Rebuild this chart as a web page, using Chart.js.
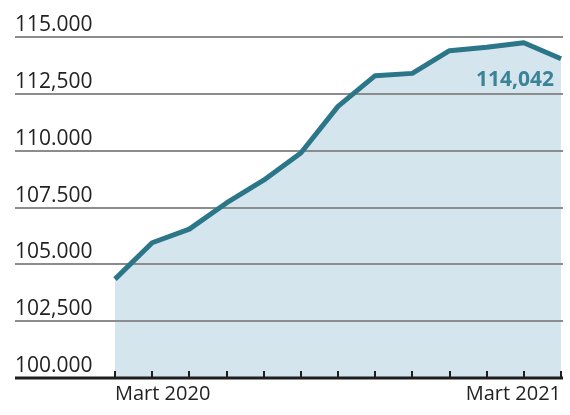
<!DOCTYPE html>
<html>
<head>
<meta charset="utf-8">
<script src="https://cdn.jsdelivr.net/npm/chart.js@4"></script>
<style>
  html, body { margin: 0; padding: 0; background: #fff; }
  #wrap { width: 570px; height: 415px; }
</style>
</head>
<body>
<div id="wrap"><canvas id="chart" width="570" height="415"></canvas></div>
<script>
// monthly values, Mart 2020 -> Mart 2021
const months = ['Mart 2020', 'Nisan 2020', 'Mayıs 2020', 'Haziran 2020', 'Temmuz 2020', 'Ağustos 2020',
  'Eylül 2020', 'Ekim 2020', 'Kasım 2020', 'Aralık 2020', 'Ocak 2021', 'Şubat 2021', 'Mart 2021'];
const values = [104350, 105950, 106550, 107700, 108700, 109900, 111950, 113300, 113400, 114400, 114550, 114750, 114042];
const yTicks = [100000, 102500, 105000, 107500, 110000, 112500, 115000];
const yTickLabels = ['100.000', '102,500', '105.000', '107.500', '110.000', '112,500', '115.000'];
const shownMonths = ['Mart 2020', 'Mart 2021'];
const lastLabel = '114,042';

const FONT = '"Open Sans", "Noto Sans", sans-serif';
const LEFT_EDGE = 15;

// gridlines + y labels sit on the left, outside the plot area
const decor = {
  id: 'decor',
  beforeDatasetsDraw(chart) {
    const { ctx, chartArea, scales } = chart;
    const y = scales.y;
    ctx.save();
    yTicks.forEach((v, i) => {
      const py = Math.round(y.getPixelForValue(v));
      if (v !== y.min) {
        ctx.strokeStyle = '#8a8c8e';
        ctx.lineWidth = 2;
        ctx.beginPath();
        ctx.moveTo(LEFT_EDGE, py);
        ctx.lineTo(chartArea.right + 2, py);
        ctx.stroke();
      }
      ctx.fillStyle = '#222';
      ctx.font = '21px ' + FONT;
      ctx.textAlign = 'left';
      ctx.textBaseline = 'alphabetic';
      ctx.fillText(yTickLabels[i], LEFT_EDGE, py - 6);
    });
    ctx.restore();
  },
  afterDatasetsDraw(chart) {
    const { ctx, chartArea, scales } = chart;
    const x = scales.x;
    const base = Math.round(scales.y.getPixelForValue(scales.y.min));
    ctx.save();
    // axis line
    ctx.strokeStyle = '#1e1e1e';
    ctx.lineWidth = 3;
    ctx.beginPath();
    ctx.moveTo(LEFT_EDGE, base);
    ctx.lineTo(chartArea.right + 2, base);
    ctx.stroke();
    // upward tick marks at each month
    ctx.lineWidth = 2;
    months.forEach((m, i) => {
      const px = Math.round(x.getPixelForValue(i));
      ctx.beginPath();
      ctx.moveTo(px, base);
      ctx.lineTo(px, base - 7);
      ctx.stroke();
    });
    // value label for the last point
    const meta = chart.getDatasetMeta(0);
    const last = meta.data[meta.data.length - 1];
    ctx.fillStyle = '#3b8397';
    ctx.font = 'bold 21px ' + FONT;
    ctx.textAlign = 'right';
    ctx.fillText(lastLabel, last.x - 7, last.y + 27);
    ctx.restore();
  }
};

new Chart(document.getElementById('chart'), {
  type: 'line',
  data: {
    labels: months,
    datasets: [{
      data: values,
      borderColor: '#2b7688',
      borderWidth: 5,
      backgroundColor: '#d5e5ee',
      fill: 'origin',
      tension: 0,
      pointRadius: 0,
      borderJoinStyle: 'round',
      borderCapStyle: 'butt'
    }]
  },
  options: {
    responsive: false,
    animation: false,
    layout: { padding: { left: 115, right: 9, top: 37, bottom: 5 } },
    plugins: {
      legend: { display: false },
      tooltip: { enabled: false },
      filler: { drawTime: 'beforeDatasetsDraw' }
    },
    scales: {
      x: {
        grid: { display: false, drawTicks: false },
        border: { display: false },
        ticks: {
          autoSkip: false,
          maxRotation: 0,
          align: 'inner',
          padding: 4,
          color: '#222',
          font: { family: FONT, size: 20 },
          callback: (v, i) => shownMonths.includes(months[i]) ? months[i] : ''
        }
      },
      y: {
        display: false,
        min: 100000,
        max: 115000,
        ticks: { stepSize: 2500 }
      }
    }
  },
  plugins: [decor]
});
</script>
</body>
</html>
